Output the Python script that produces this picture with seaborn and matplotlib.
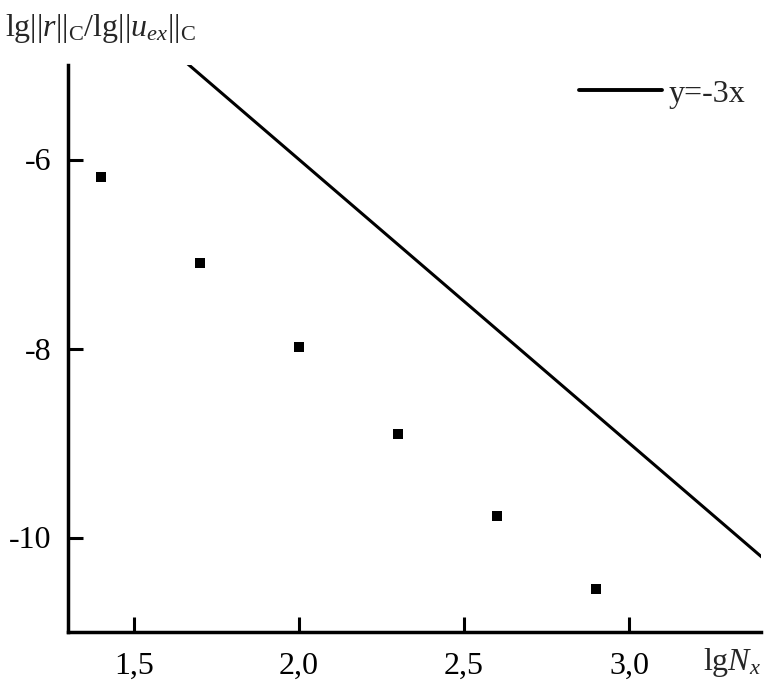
import matplotlib
matplotlib.use("Agg")
import matplotlib.pyplot as plt
import seaborn as sns
import pandas as pd

# data
lg_nx = [1.4, 1.7, 2.0, 2.3, 2.6, 2.9]
lg_ratio = [-6.19, -7.09, -7.98, -8.91, -9.77, -10.54]

# reference line y = -3x, two end points
ref_x = [1.6, 3.45]
ref_y = [-4.8, -10.35]

x_ticks = [1.5, 2.0, 2.5, 3.0]
x_tick_labels = ["1,5", "2,0", "2,5", "3,0"]
y_ticks = [-6, -8, -10]
y_tick_labels = ["-6", "-8", "-10"]

sns.set_theme(style="white")
plt.rcParams["font.family"] = ["Liberation Serif", "DejaVu Serif"]
plt.rcParams["mathtext.fontset"] = "custom"
plt.rcParams["mathtext.rm"] = "Liberation Serif"
plt.rcParams["mathtext.it"] = "Liberation Serif:italic"

points = pd.DataFrame({"x": lg_nx, "y": lg_ratio})
ref = pd.DataFrame({"x": ref_x, "y": ref_y})

fig = plt.figure(figsize=(7.65, 6.93), dpi=100)
ax = fig.add_axes([68 / 765, 61 / 693, (761 - 68) / 765, (632 - 65) / 693])

sns.lineplot(data=ref, x="x", y="y", ax=ax, color="black", linewidth=2.2, label="y=-3x")
sns.scatterplot(data=points, x="x", y="y", ax=ax, color="black", marker="s",
                s=55, edgecolor="black", linewidth=0, legend=False)

ax.set_xlim(1.3, 3.4)
ax.set_ylim(-11, -5)
ax.set_xticks(x_ticks)
ax.set_xticklabels(x_tick_labels)
ax.set_yticks(y_ticks)
ax.set_yticklabels(y_tick_labels)
ax.set_xlabel("")
ax.set_ylabel("")

for side in ["top", "right"]:
    ax.spines[side].set_visible(False)
for side in ["left", "bottom"]:
    ax.spines[side].set_color("black")
    ax.spines[side].set_linewidth(2.5)

ax.tick_params(direction="in", length=11, width=2.2, labelsize=23,
               colors="black", left=True, bottom=True)
ax.tick_params(axis="x", pad=14)
ax.tick_params(axis="y", pad=12)
ax.grid(False)

leg = ax.legend(loc="upper right", frameon=False, fontsize=23,
                handlelength=2.6, handletextpad=0.2, borderaxespad=0.1,
                bbox_to_anchor=(1.0, 1.003))
for line in leg.get_lines():
    line.set_linewidth(2.8)

fig.text(5 / 765, 1 - 36 / 693,
         r"lg$||\mathit{r}||_{\mathrm{C}}$/lg$||\mathit{u}_{\mathit{ex}}||_{\mathrm{C}}$",
         fontsize=23, ha="left", va="baseline")
fig.text(703 / 765, 1 - 670 / 693, r"lg$\mathit{N}_{\mathit{x}}$",
         fontsize=23, ha="left", va="baseline")

fig.savefig("out.png", dpi=100, facecolor="white")
